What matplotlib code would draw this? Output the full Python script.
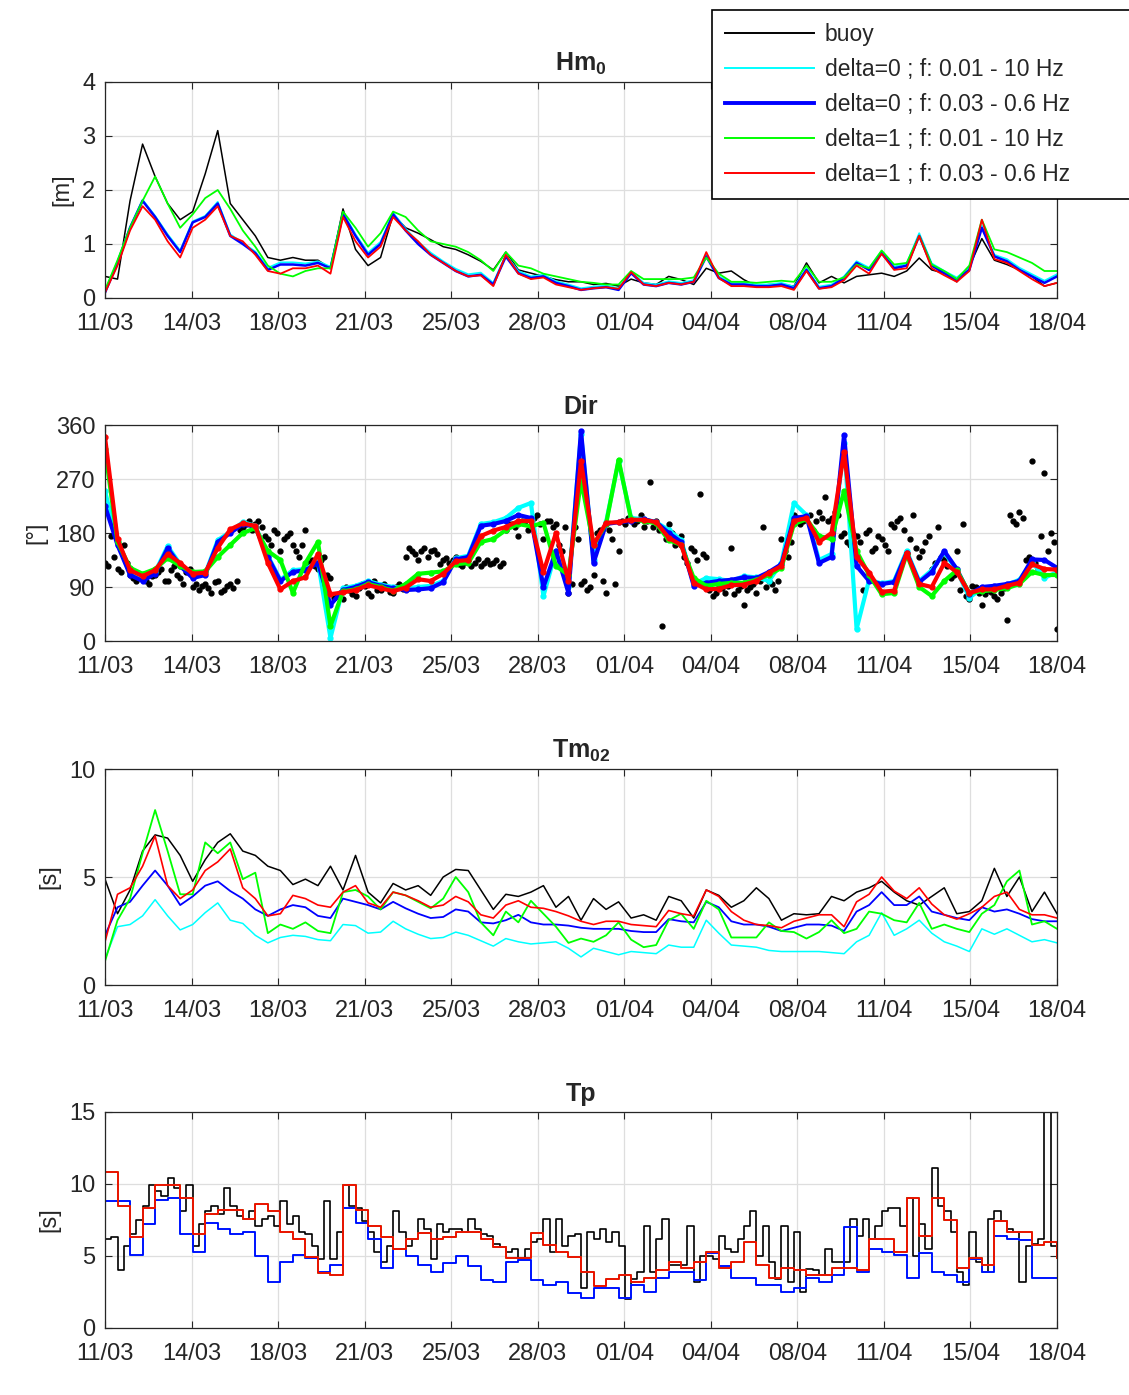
import numpy as np
import matplotlib
matplotlib.use("Agg")
from matplotlib import pyplot as plt
from matplotlib.lines import Line2D

plt.rcParams['font.family'] = ['Liberation Sans', 'DejaVu Sans']
plt.rcParams['mathtext.fontset'] = 'custom'
plt.rcParams['mathtext.rm'] = 'Liberation Sans'
plt.rcParams['mathtext.bf'] = 'Liberation Sans:bold'

# time axis: days since 11/03, models every 12 h, buoy dir / Tp every 6 h
t = np.arange(77) * 0.5
t_q = np.arange(153) * 0.25
t_q_mid = t_q[:-1] + 0.125
xtick_labels = ['11/03', '14/03', '18/03', '21/03', '25/03', '28/03',
                '01/04', '04/04', '08/04', '11/04', '15/04', '18/04']

labels = ['buoy', 'delta=0 ; f: 0.01 - 10 Hz', 'delta=0 ; f: 0.03 - 0.6 Hz',
          'delta=1 ; f: 0.01 - 10 Hz', 'delta=1 ; f: 0.03 - 0.6 Hz']

# ---- Hm0 [m]
hm0_buoy = [0.4, 0.35, 1.8, 2.85, 2.25, 1.75, 1.45, 1.6, 2.3, 3.1,
            1.75, 1.45, 1.15, 0.75, 0.7, 0.75, 0.7, 0.7, 0.55, 1.65,
            0.9, 0.6, 0.75, 1.55, 1.3, 1.2, 1.08, 0.95, 0.9, 0.8,
            0.68, 0.52, 0.85, 0.52, 0.46, 0.4, 0.34, 0.3, 0.3, 0.25,
            0.27, 0.22, 0.35, 0.28, 0.25, 0.4, 0.34, 0.25, 0.55, 0.46,
            0.5, 0.34, 0.22, 0.25, 0.25, 0.22, 0.65, 0.28, 0.4, 0.28,
            0.4, 0.43, 0.46, 0.4, 0.5, 0.74, 0.52, 0.46, 0.3, 0.58,
            1.1, 0.7, 0.62, 0.52, 0.4, 0.22, 0.28]
hm0_d0_wide = [0.12, 0.68, 1.32, 1.82, 1.52, 1.18, 0.88, 1.42, 1.52, 1.78,
               1.18, 1.02, 0.86, 0.56, 0.66, 0.66, 0.64, 0.68, 0.58, 1.58,
               1.18, 0.84, 1.04, 1.58, 1.28, 1.04, 0.84, 0.68, 0.54, 0.44,
               0.47, 0.28, 0.8, 0.5, 0.4, 0.43, 0.31, 0.25, 0.18, 0.21,
               0.23, 0.18, 0.49, 0.28, 0.25, 0.31, 0.28, 0.33, 0.8, 0.4,
               0.28, 0.28, 0.25, 0.25, 0.28, 0.21, 0.55, 0.21, 0.25, 0.4,
               0.68, 0.56, 0.87, 0.58, 0.64, 1.2, 0.64, 0.5, 0.38, 0.56,
               1.34, 0.8, 0.72, 0.56, 0.44, 0.32, 0.44]
hm0_d0_narrow = [0.1, 0.65, 1.3, 1.8, 1.5, 1.15, 0.85, 1.4, 1.5, 1.75,
                 1.15, 1.0, 0.83, 0.52, 0.62, 0.62, 0.6, 0.65, 0.55, 1.55,
                 1.15, 0.8, 1.0, 1.55, 1.25, 1.0, 0.8, 0.65, 0.5, 0.4,
                 0.43, 0.25, 0.77, 0.46, 0.37, 0.4, 0.28, 0.22, 0.15, 0.18,
                 0.2, 0.15, 0.46, 0.25, 0.22, 0.28, 0.25, 0.3, 0.77, 0.37,
                 0.25, 0.25, 0.22, 0.22, 0.25, 0.18, 0.52, 0.18, 0.22, 0.37,
                 0.65, 0.52, 0.83, 0.55, 0.6, 1.15, 0.6, 0.46, 0.34, 0.52,
                 1.3, 0.77, 0.68, 0.52, 0.4, 0.28, 0.4]
hm0_d1_wide = [0.15, 0.7, 1.3, 1.8, 2.25, 1.75, 1.3, 1.55, 1.85, 2.0,
               1.65, 1.25, 0.95, 0.6, 0.45, 0.4, 0.5, 0.55, 0.55, 1.6,
               1.3, 0.95, 1.2, 1.6, 1.5, 1.25, 1.05, 1.0, 0.95, 0.85,
               0.7, 0.5, 0.85, 0.6, 0.55, 0.45, 0.4, 0.35, 0.3, 0.28,
               0.25, 0.25, 0.5, 0.35, 0.35, 0.35, 0.35, 0.38, 0.75, 0.45,
               0.3, 0.3, 0.28, 0.3, 0.32, 0.3, 0.6, 0.3, 0.3, 0.38,
               0.62, 0.55, 0.88, 0.62, 0.65, 1.15, 0.62, 0.5, 0.35, 0.6,
               1.45, 0.9, 0.85, 0.75, 0.65, 0.5, 0.5]
hm0_d1_narrow = [0.1, 0.6, 1.25, 1.7, 1.45, 1.05, 0.75, 1.3, 1.45, 1.7,
                 1.15, 1.05, 0.8, 0.5, 0.45, 0.55, 0.55, 0.6, 0.45, 1.5,
                 1.05, 0.75, 0.95, 1.5, 1.25, 1.05, 0.8, 0.65, 0.5, 0.4,
                 0.42, 0.22, 0.8, 0.45, 0.35, 0.38, 0.25, 0.2, 0.15, 0.18,
                 0.2, 0.17, 0.48, 0.25, 0.22, 0.28, 0.25, 0.3, 0.85, 0.37,
                 0.22, 0.22, 0.2, 0.2, 0.22, 0.15, 0.5, 0.17, 0.2, 0.33,
                 0.6, 0.45, 0.82, 0.52, 0.55, 1.15, 0.55, 0.42, 0.3, 0.5,
                 1.45, 0.72, 0.65, 0.5, 0.35, 0.22, 0.28]

# ---- Dir [deg]
dir_buoy = [130, 175, 120, 160, 110, 100, 105, 95, 110, 120,
            100, 125, 105, 115, 90, 85, 95, 80, 100, 85,
            95, 100, 190, 200, 195, 190, 170, 185, 150, 175,
            160, 140, 185, 135, 120, 140, 105, 75, 70, 85,
            75, 95, 80, 100, 85, 90, 80, 95, 140, 150,
            135, 155, 150, 145, 135, 130, 140, 125, 135, 130,
            125, 135, 130, 125, 185, 195, 175, 200, 190, 210,
            170, 200, 195, 150, 80, 190, 95, 85, 110, 185,
            80, 170, 150, 195, 205, 200, 190, 265, 200, 25,
            195, 160, 175, 130, 150, 245, 140, 75, 90, 80,
            155, 85, 60, 90, 80, 190, 100, 85, 170, 140,
            210, 195, 205, 185, 215, 240, 205, 210, 180, 160,
            175, 85, 185, 155, 170, 150, 190, 205, 145, 210,
            140, 165, 120, 190, 135, 105, 150, 195, 70, 90,
            60, 85, 75, 80, 35, 200, 215, 135, 300, 120,
            280, 180, 20]
dir_buoy_mid = [125, 140, 115, 130, 105, 110, 100, 108, 115, 100,
                118, 110, 95, 120, 95, 92, 88, 98, 82, 92,
                88, 185, 195, 185, 200, 175, 160, 180, 170, 180,
                150, 160, 130, 125, 135, 110, 72, 80, 90, 78,
                88, 92, 75, 85, 95, 82, 90, 86, 155, 145,
                150, 140, 152, 128, 138, 135, 128, 132, 125, 136,
                130, 128, 135, 130, 195, 190, 200, 185, 205, 195,
                200, 190, 160, 190, 95, 170, 100, 90, 180, 100,
                185, 95, 200, 205, 195, 210, 200, 190, 185, 170,
                180, 165, 140, 155, 135, 145, 85, 80, 88, 92,
                78, 92, 85, 95, 100, 90, 95, 100, 150, 165,
                205, 200, 210, 200, 205, 200, 215, 175, 165, 178,
                165, 180, 150, 175, 160, 195, 200, 185, 170, 155,
                150, 175, 130, 140, 125, 110, 85, 75, 92, 80,
                78, 82, 70, 88, 210, 195, 205, 140, 130, 175,
                150, 165]
dir_d0_wide = [250, 165, 112, 102, 115, 158, 128, 108, 112, 168,
               182, 198, 192, 142, 102, 118, 120, 132, 5, 88,
               92, 100, 94, 90, 88, 90, 92, 100, 138, 142,
               195, 198, 205, 222, 230, 75, 150, 90, 345, 135,
               198, 300, 205, 203, 198, 185, 168, 95, 105, 103,
               100, 108, 106, 100, 130, 230, 210, 135, 145, 330,
               20, 102, 96, 100, 150, 100, 118, 148, 118, 72,
               88, 90, 94, 102, 132, 105, 115]
dir_d0_narrow = [225, 160, 110, 100, 112, 155, 125, 105, 110, 165,
                 180, 195, 190, 140, 100, 115, 118, 130, 60, 85,
                 90, 98, 92, 88, 85, 86, 88, 98, 136, 140,
                 192, 195, 200, 210, 205, 90, 150, 80, 350, 130,
                 195, 198, 200, 203, 198, 180, 165, 92, 97, 100,
                 102, 106, 105, 115, 128, 205, 208, 130, 140, 343,
                 125, 100, 95, 98, 147, 98, 115, 150, 120, 78,
                 90, 92, 95, 100, 136, 135, 122]
dir_d1_wide = [320, 165, 122, 112, 120, 138, 125, 115, 116, 140,
               160, 180, 188, 150, 135, 80, 130, 165, 25, 83,
               86, 95, 90, 84, 95, 112, 114, 116, 128, 130,
               165, 170, 185, 195, 191, 197, 125, 110, 268, 160,
               195, 302, 203, 200, 196, 168, 160, 105, 92, 95,
               97, 97, 102, 110, 122, 195, 203, 175, 170, 250,
               150, 110, 78, 80, 145, 90, 75, 100, 118, 80,
               83, 85, 88, 95, 115, 110, 110]
dir_d1_narrow = [340, 170, 118, 108, 118, 145, 130, 112, 114, 155,
                 186, 196, 192, 130, 86, 100, 106, 145, 78, 81,
                 85, 93, 88, 83, 89, 103, 100, 112, 133, 135,
                 175, 184, 190, 200, 200, 115, 180, 100, 300, 160,
                 197, 198, 202, 202, 198, 172, 160, 97, 86, 87,
                 93, 94, 100, 114, 125, 200, 205, 165, 180, 315,
                 140, 114, 82, 84, 147, 95, 90, 130, 115, 80,
                 86, 86, 92, 97, 128, 120, 119]

# ---- Tm02 [s]
tm_buoy = [4.9, 3.3, 4.4, 6.2, 6.95, 6.8, 6.0, 4.8, 5.8, 6.6,
           7.0, 6.2, 6.0, 5.5, 5.3, 4.65, 4.9, 4.6, 5.5, 4.4,
           6.0, 4.3, 3.8, 4.7, 4.4, 4.6, 4.15, 5.0, 5.35, 5.3,
           4.4, 3.5, 4.2, 4.1, 4.3, 4.6, 3.6, 4.1, 3.0, 4.0,
           3.5, 3.85, 3.1, 3.25, 3.0, 4.1, 3.9, 3.1, 4.4, 4.15,
           3.6, 3.9, 4.5, 4.0, 3.0, 3.3, 3.25, 3.3, 4.1, 3.9,
           4.3, 4.5, 4.8, 4.3, 3.9, 3.7, 4.1, 4.5, 3.3, 3.4,
           3.9, 5.4, 4.1, 5.0, 3.4, 4.3, 3.3]
tm_d0_wide = [1.2, 2.7, 2.8, 3.2, 3.95, 3.2, 2.55, 2.8, 3.35, 3.8,
              3.0, 2.85, 2.3, 1.95, 2.2, 2.3, 2.25, 2.1, 2.05, 2.8,
              2.75, 2.4, 2.45, 2.95, 2.6, 2.35, 2.15, 2.2, 2.45, 2.3,
              2.05, 1.8, 2.15, 2.0, 1.9, 1.95, 2.0, 1.7, 1.3, 1.7,
              1.55, 1.4, 1.55, 1.5, 1.45, 1.85, 1.75, 1.75, 3.0, 2.4,
              1.85, 1.8, 1.75, 1.6, 1.55, 1.55, 1.55, 1.55, 1.5, 1.45,
              2.0, 2.3, 3.35, 2.3, 2.6, 3.0, 2.4, 2.0, 1.8, 1.55,
              2.6, 2.35, 2.6, 2.3, 2.0, 2.1, 1.95]
tm_d0_narrow = [2.3, 3.6, 3.85, 4.6, 5.3, 4.6, 3.7, 4.1, 4.6, 4.8,
                4.35, 4.0, 3.5, 3.2, 3.5, 3.7, 3.6, 3.2, 3.1, 4.0,
                3.85, 3.7, 3.5, 3.85, 3.55, 3.3, 3.1, 3.15, 3.5, 3.4,
                2.9, 2.85, 3.0, 3.25, 2.9, 2.8, 2.8, 2.75, 2.65, 2.6,
                2.6, 2.6, 2.5, 2.45, 2.45, 3.05, 2.95, 2.9, 3.85, 3.6,
                2.95, 2.8, 2.8, 2.7, 2.5, 2.65, 2.8, 2.8, 2.75, 2.5,
                3.4, 3.7, 4.3, 3.7, 3.7, 4.1, 3.4, 3.25, 3.1, 3.0,
                3.6, 3.4, 3.5, 3.3, 3.05, 2.95, 2.95]
tm_d1_wide = [1.1, 3.0, 4.0, 6.1, 8.1, 6.2, 4.2, 4.2, 6.6, 6.1,
              6.6, 4.9, 5.2, 2.4, 2.8, 2.6, 2.9, 2.5, 2.4, 4.3,
              4.4, 4.1, 3.5, 4.3, 4.15, 3.85, 3.55, 4.0, 5.0, 4.3,
              2.9, 2.3, 3.4, 2.9, 3.9, 3.3, 2.7, 1.95, 2.15, 2.0,
              2.3, 2.9, 2.1, 1.75, 1.85, 3.0, 3.3, 2.6, 3.9, 3.5,
              2.2, 2.2, 2.2, 2.9, 2.5, 2.45, 2.15, 2.45, 3.0, 2.4,
              2.6, 3.4, 3.3, 3.0, 2.9, 3.8, 2.6, 2.8, 2.6, 2.45,
              3.3, 3.7, 4.8, 5.3, 2.8, 2.95, 2.6]
tm_d1_narrow = [2.0, 4.2, 4.5, 5.5, 6.9, 4.6, 4.0, 4.4, 5.3, 5.7,
                6.3, 4.5, 4.0, 3.2, 3.3, 4.15, 4.0, 3.7, 3.6, 4.3,
                4.6, 3.8, 3.6, 4.3, 4.15, 3.9, 3.6, 3.7, 4.1, 3.85,
                3.25, 3.1, 3.7, 3.9, 3.6, 3.55, 3.4, 3.2, 2.95, 2.8,
                2.95, 2.95, 2.8, 2.75, 2.7, 3.45, 3.3, 3.2, 4.4, 4.1,
                3.4, 3.0, 2.8, 2.75, 2.65, 2.95, 3.1, 3.25, 3.25, 2.7,
                3.85, 4.2, 5.0, 4.35, 4.0, 4.5, 3.75, 3.25, 3.05, 3.3,
                3.6, 4.1, 4.3, 3.5, 3.25, 3.25, 3.1]

# ---- Tp [s]
tp_buoy = [6.2, 6.3, 4.0, 5.7, 6.5, 7.5, 8.5, 9.9, 9.5, 9.2,
           10.4, 9.7, 8.1, 9.9, 5.7, 7.2, 8.1, 8.5, 7.9, 9.7,
           8.5, 7.8, 7.6, 8.1, 7.1, 7.6, 7.8, 7.1, 8.8, 7.2,
           7.8, 6.7, 6.5, 5.7, 4.8, 8.8, 4.8, 6.7, 9.9, 8.5,
           8.3, 7.4, 6.7, 5.3, 4.6, 5.7, 8.1, 6.7, 5.7, 6.2,
           7.6, 6.9, 4.8, 7.2, 6.7, 6.9, 6.9, 6.7, 7.6, 6.9,
           6.5, 6.4, 5.8, 5.6, 5.3, 5.5, 4.8, 5.5, 6.0, 6.2,
           7.6, 5.3, 7.6, 5.7, 6.4, 6.5, 2.8, 6.7, 6.2, 6.9,
           6.0, 6.7, 5.7, 2.0, 3.4, 3.9, 7.1, 3.9, 6.2, 7.6,
           4.4, 4.4, 4.4, 7.1, 3.2, 5.0, 5.0, 4.8, 6.4, 5.5,
           5.3, 6.2, 7.1, 8.1, 5.0, 7.1, 4.6, 3.4, 7.1, 3.2,
           6.7, 2.5, 4.1, 4.0, 3.7, 5.5, 4.6, 4.6, 4.6, 7.6,
           6.4, 7.6, 6.2, 7.1, 8.1, 8.3, 8.3, 7.1, 9.0, 5.0,
           7.2, 5.5, 11.1, 8.5, 8.1, 6.7, 3.9, 3.0, 6.7, 4.6,
           3.9, 7.6, 8.1, 7.4, 6.9, 6.7, 3.2, 5.7, 5.8, 6.2,
           15.0, 5.7, 5.3]
tp_d0_narrow = [8.8, 8.8, 5.1, 7.2, 8.9, 9.0, 6.5, 5.3, 7.3, 6.9,
                6.5, 6.7, 5.0, 3.2, 4.6, 5.05, 4.85, 3.9, 4.4, 8.3,
                7.3, 6.2, 4.2, 5.5, 5.0, 4.4, 3.9, 4.5, 5.0, 4.3,
                3.3, 3.2, 4.6, 4.7, 3.3, 3.0, 3.2, 2.4, 2.1, 2.75,
                2.75, 2.1, 3.0, 2.5, 3.5, 3.9, 3.9, 3.3, 5.2, 4.3,
                3.5, 3.45, 3.0, 3.0, 2.5, 2.8, 3.45, 3.2, 3.7, 7.0,
                3.9, 5.5, 5.3, 5.05, 3.5, 5.2, 3.9, 3.7, 3.2, 4.8,
                3.9, 6.4, 6.2, 6.1, 3.45, 3.45, 3.45]
tp_d1_narrow = [10.8, 8.5, 6.3, 8.3, 9.9, 9.9, 9.0, 6.5, 7.9, 8.2,
                8.2, 7.6, 8.6, 8.1, 6.7, 6.2, 4.9, 3.8, 3.7, 9.9,
                8.2, 7.1, 6.3, 5.5, 6.2, 6.6, 6.2, 6.3, 6.7, 6.7,
                6.2, 5.6, 4.85, 4.85, 6.6, 5.75, 5.3, 4.9, 3.9, 2.9,
                3.4, 3.7, 3.2, 3.5, 4.0, 4.6, 4.2, 4.6, 5.3, 4.2,
                4.6, 6.0, 4.4, 3.5, 4.15, 4.0, 3.7, 3.7, 4.15, 4.15,
                4.0, 6.2, 6.2, 5.3, 9.0, 6.4, 9.0, 7.5, 4.15, 4.85,
                4.4, 7.4, 6.7, 6.7, 5.75, 6.0, 4.85]

colors = ['black', '#00ffff', '#0000ff', '#00ff00', '#ff0000']
txt_col = '#262626'

W, H = 1129, 1395
fig = plt.figure(figsize=(W / 100, H / 100), dpi=100)

tops = [82, 425, 769, 1112]
left, right, ax_h = 105, 1057, 216
axes = []
for top in tops:
    ax = fig.add_axes([left / W, 1 - (top + ax_h) / H, (right - left) / W, ax_h / H])
    axes.append(ax)


def style(ax, title, ylabel, ylim, yticks):
    ax.set_xlim(0, 38)
    ax.set_ylim(*ylim)
    ax.set_yticks(yticks)
    ax.set_xticks(np.linspace(0, 38, 12))
    ax.set_xticklabels(xtick_labels)
    ax.grid(True, color='#dedede', lw=0.9)
    ax.set_axisbelow(True)
    ax.tick_params(direction='in', length=5, width=0.8, top=True, right=True,
                   labelsize=17, colors=txt_col)
    ax.tick_params(axis='x', pad=11)
    ax.tick_params(axis='y', pad=7)
    for s in ax.spines.values():
        s.set_color(txt_col)
        s.set_linewidth(0.9)
    ax.set_title(title, fontsize=18, fontweight='bold', color=txt_col, pad=8)
    ax.set_ylabel(ylabel, fontsize=17, color=txt_col, labelpad=6)


# Hm0
ax = axes[0]
ax.plot(t, hm0_buoy, color=colors[0], lw=1.1)
ax.plot(t, hm0_d0_wide, color=colors[1], lw=1.3)
ax.plot(t, hm0_d0_narrow, color=colors[2], lw=1.8)
ax.plot(t, hm0_d1_wide, color=colors[3], lw=1.3)
ax.plot(t, hm0_d1_narrow, color=colors[4], lw=1.3)
style(ax, r'Hm$_\mathbf{0}$', '[m]', (0, 4), [0, 1, 2, 3, 4])

# Dir
ax = axes[1]
ax.plot(t_q, dir_buoy, 'o', color='black', ms=3.5)
ax.plot(t_q_mid, dir_buoy_mid, 'o', color='black', ms=3.5)
for d, c in zip([dir_d0_wide, dir_d0_narrow, dir_d1_wide, dir_d1_narrow], colors[1:]):
    ax.plot(t, d, '-o', color=c, lw=3, ms=3.5)
style(ax, 'Dir', '[°]', (0, 360), [0, 90, 180, 270, 360])

# Tm02
ax = axes[2]
ax.plot(t, tm_buoy, color=colors[0], lw=1.1)
ax.plot(t, tm_d0_wide, color=colors[1], lw=1.1)
ax.plot(t, tm_d0_narrow, color=colors[2], lw=1.3)
ax.plot(t, tm_d1_wide, color=colors[3], lw=1.3)
ax.plot(t, tm_d1_narrow, color=colors[4], lw=1.2)
style(ax, r'Tm$_\mathbf{02}$', '[s]', (0, 10), [0, 5, 10])

# Tp
ax = axes[3]
ax.plot(t_q, tp_buoy, color=colors[0], lw=1.2, drawstyle='steps-post')
ax.plot(t, tp_d0_narrow, color=colors[1], lw=1.3, drawstyle='steps-post')
ax.plot(t, tp_d0_narrow, color=colors[2], lw=1.3, drawstyle='steps-post')
ax.plot(t, tp_d1_narrow, color=colors[3], lw=1.3, drawstyle='steps-post')
ax.plot(t, tp_d1_narrow, color=colors[4], lw=1.3, drawstyle='steps-post')
style(ax, 'Tp', '[s]', (0, 15), [0, 5, 10, 15])

handles = [Line2D([], [], color=c, lw=(2.8 if c == '#0000ff' else 1.4)) for c in colors]
leg = fig.legend(handles, labels, loc='upper left', mode='expand',
                 bbox_to_anchor=(712 / W, 1 - 200 / H, 440 / W, 190 / H),
                 fontsize=16.5, frameon=True, fancybox=False, framealpha=1,
                 edgecolor='black', borderaxespad=0, borderpad=0.55,
                 handlelength=3.9, handletextpad=0.48, labelspacing=0.53)
leg.get_frame().set_linewidth(1.2)
for txt in leg.get_texts():
    txt.set_color(txt_col)

fig.savefig('out.png', dpi=100, facecolor='white')
